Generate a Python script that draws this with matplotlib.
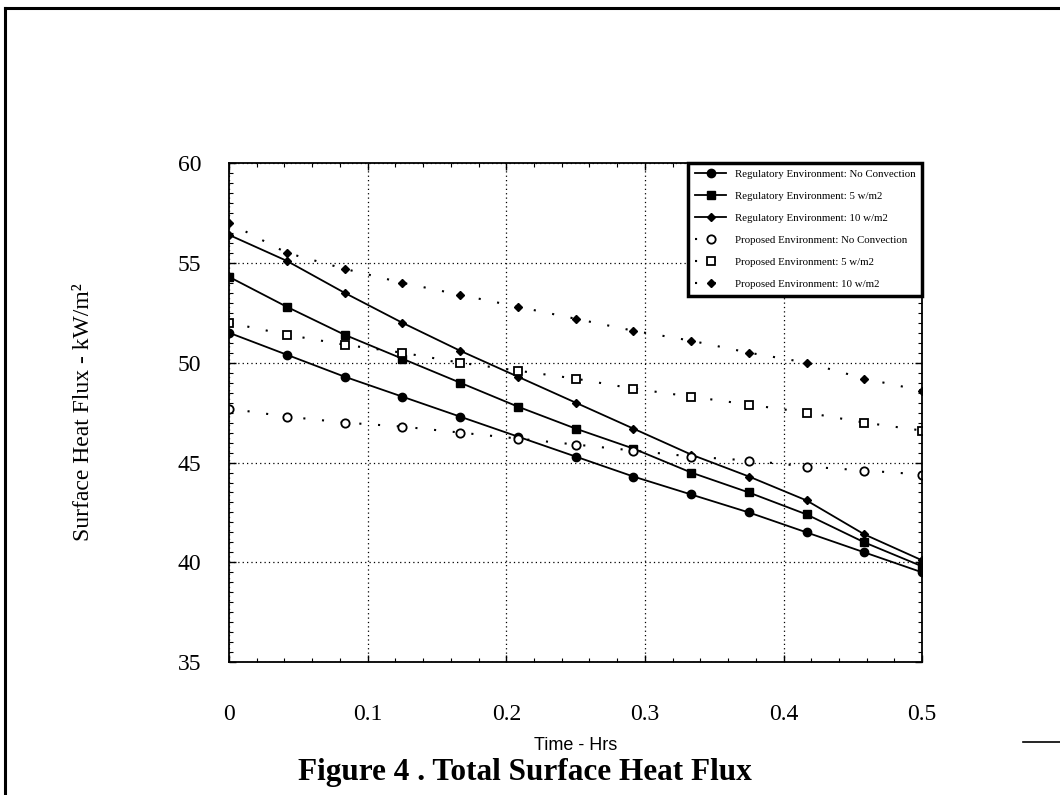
import numpy as np
import matplotlib
matplotlib.use("Agg")
import matplotlib.pyplot as plt
from matplotlib.lines import Line2D
from matplotlib.ticker import MultipleLocator, FuncFormatter

plt.rcParams['font.family'] = ['Liberation Serif', 'DejaVu Serif']

# time in hours, one point every 2.5 minutes
hrs = [0, 1/24, 2/24, 3/24, 4/24, 5/24, 6/24, 7/24, 8/24, 9/24, 10/24, 11/24, 12/24]

reg_noconv = [51.5, 50.4, 49.3, 48.3, 47.3, 46.3, 45.3, 44.3, 43.4, 42.5, 41.5, 40.5, 39.5]
reg_5 = [54.3, 52.8, 51.4, 50.2, 49.0, 47.8, 46.7, 45.7, 44.5, 43.5, 42.4, 41.0, 39.8]
reg_10 = [56.4, 55.1, 53.5, 52.0, 50.6, 49.3, 48.0, 46.7, 45.4, 44.3, 43.1, 41.4, 40.1]
prop_noconv = [47.7, 47.3, 47.0, 46.8, 46.5, 46.2, 45.9, 45.6, 45.3, 45.1, 44.8, 44.6, 44.4]
prop_5 = [52.0, 51.4, 50.9, 50.5, 50.0, 49.6, 49.2, 48.7, 48.3, 47.9, 47.5, 47.0, 46.6]
prop_10 = [57.0, 55.5, 54.7, 54.0, 53.4, 52.8, 52.2, 51.6, 51.1, 50.5, 50.0, 49.2, 48.6]

labels = ["Regulatory Environment: No Convection",
          "Regulatory Environment: 5 w/m2",
          "Regulatory Environment: 10 w/m2",
          "Proposed Environment: No Convection",
          "Proposed Environment: 5 w/m2",
          "Proposed Environment: 10 w/m2"]

fig = plt.figure(figsize=(10.6, 7.95), dpi=100)
ax = fig.add_axes([0.216, 0.167, 0.654, 0.628])

dots = (0, (1, 8))
ax.plot(hrs, reg_noconv, '-', color='k', lw=1.3, marker='o', ms=6, label=labels[0])
ax.plot(hrs, reg_5, '-', color='k', lw=1.3, marker='s', ms=6, label=labels[1])
ax.plot(hrs, reg_10, '-', color='k', lw=1.3, marker='D', ms=4, label=labels[2])
ax.plot(hrs, prop_noconv, linestyle=dots, color='k', lw=1.5, marker='o', ms=6,
        mfc='white', mew=1.3, label=labels[3])
ax.plot(hrs, prop_5, linestyle=dots, color='k', lw=1.5, marker='s', ms=6,
        mfc='white', mew=1.3, label=labels[4])
ax.plot(hrs, prop_10, linestyle=dots, color='k', lw=1.5, marker='D', ms=4, label=labels[5])

ax.set_xlim(0, 0.5)
ax.set_ylim(35, 60)
ax.xaxis.set_major_locator(MultipleLocator(0.1))
ax.xaxis.set_minor_locator(MultipleLocator(0.02))
ax.yaxis.set_major_locator(MultipleLocator(5))
ax.yaxis.set_minor_locator(MultipleLocator(0.5))
ax.xaxis.set_major_formatter(FuncFormatter(lambda v, p: "0" if abs(v) < 1e-9 else f"{v:.1f}"))
ax.tick_params(which='both', direction='in', top=True, right=True, labelsize=17)
ax.tick_params(axis='x', pad=30)
ax.tick_params(axis='y', pad=20)
ax.tick_params(which='major', length=5, width=1)
ax.tick_params(which='minor', length=3, width=0.8)
ax.grid(True, which='major', color='k', linestyle=(0, (1, 2.5)), lw=0.9)
for s in ax.spines.values():
    s.set_linewidth(1.3)

ax.set_xlabel("Time - Hrs", family=['Liberation Sans Narrow', 'Liberation Sans'],
              fontsize=13, labelpad=9)
ax.set_ylabel("Surface Heat Flux - kW/m²", fontsize=17, labelpad=60)

leg = ax.legend(loc='upper right', fontsize=7.8, frameon=True, fancybox=False,
                borderaxespad=0, handlelength=2.9, labelspacing=1.15,
                edgecolor='k', framealpha=1, borderpad=0.6)
leg.get_frame().set_linewidth(2.5)

fig.text(0.495, 0.019, "Figure 4 . Total Surface Heat Flux", ha='center',
         fontsize=22.5, fontweight='bold')

# page border from the scanned document
fig.add_artist(Line2D([0.005, 1.0], [0.99, 0.99], color='k', lw=2.2))
fig.add_artist(Line2D([0.005, 0.005], [0.0, 0.99], color='k', lw=2.2))
fig.add_artist(Line2D([0.965, 1.0], [0.067, 0.067], color='k', lw=1.2))

fig.savefig("out.png", dpi=100)
